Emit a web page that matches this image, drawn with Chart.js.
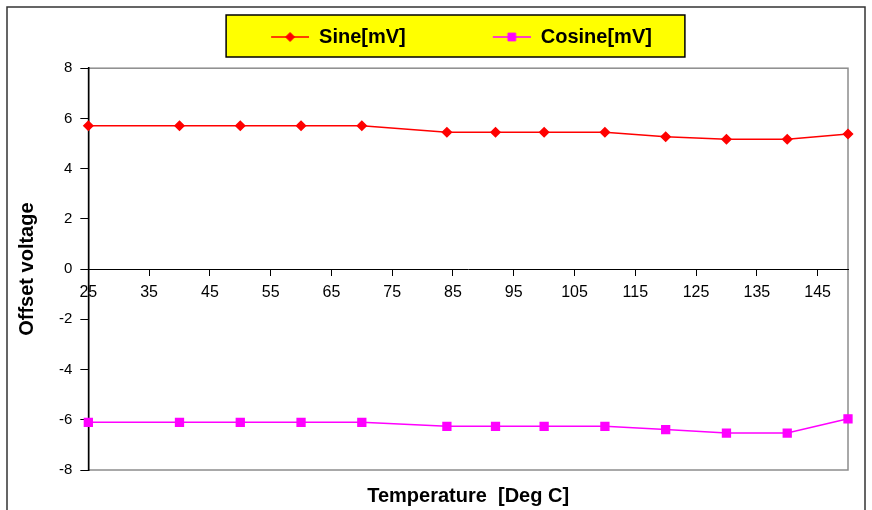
<!DOCTYPE html>
<html>
<head>
<meta charset="utf-8">
<script src="https://cdn.jsdelivr.net/npm/chart.js@4.4.1/dist/chart.umd.min.js"></script>
<style>
    html, body { margin: 0; padding: 0; background: #fff; overflow: hidden; }
    #wrap { width: 872px; height: 510px; }
</style>
</head>
<body>
<div id="wrap"><canvas id="offsetChart"></canvas></div>
<script>
// measured values
const temps = [25, 40, 50, 60, 70, 84, 92, 100, 110, 120, 130, 140, 150];
const sineValues = [5.71, 5.71, 5.71, 5.71, 5.71, 5.45, 5.45, 5.45, 5.45, 5.27, 5.17, 5.17, 5.38];
const cosineValues = [-6.10, -6.10, -6.10, -6.10, -6.10, -6.26, -6.26, -6.26, -6.26, -6.39, -6.53, -6.53, -5.96];

// axis ticks
const xTicks = [25, 35, 45, 55, 65, 75, 85, 95, 105, 115, 125, 135, 145];
const yTicks = [-8, -6, -4, -2, 0, 2, 4, 6, 8];

const seriesNames = ['Sine[mV]', 'Cosine[mV]'];

Chart.defaults.font.family = '"Liberation Sans", Arial, sans-serif';
Chart.defaults.color = '#000';

// legend symbol: empty space + line with marker
const LEGEND_GAP = 75;
const LEGEND_LINE = 38;

function legendSymbol(ds) {
    const c = document.createElement('canvas');
    c.width = LEGEND_GAP + LEGEND_LINE;
    c.height = 12;
    const ctx = c.getContext('2d');
    ctx.strokeStyle = ds.borderColor;
    ctx.lineWidth = 1.5;
    ctx.beginPath();
    ctx.moveTo(LEGEND_GAP, 6);
    ctx.lineTo(LEGEND_GAP + LEGEND_LINE, 6);
    ctx.stroke();
    ctx.fillStyle = ds.backgroundColor;
    ctx.lineWidth = 1;
    Chart.helpers.drawPoint(ctx, { pointStyle: ds.pointStyle, radius: ds.pointRadius, borderWidth: 1, rotation: 0 }, LEGEND_GAP + LEGEND_LINE / 2, 6);
    return c;
}

// background, outer border, plot frame and yellow legend box
const framePlugin = {
    id: 'frame',
    beforeDraw(chart) {
        const { ctx, chartArea: a, legend } = chart;
        ctx.save();
        ctx.fillStyle = '#fff';
        ctx.fillRect(0, 0, chart.width, chart.height);

        ctx.strokeStyle = '#333';
        ctx.lineWidth = 1.5;
        ctx.strokeRect(7, 7, chart.width - 14, chart.height + 10);

        ctx.strokeStyle = '#8c8c8c';
        ctx.lineWidth = 1.5;
        ctx.strokeRect(a.left, a.top, a.right - a.left, a.bottom - a.top);

        const boxes = legend.legendHitBoxes;
        if (boxes && boxes.length) {
            const first = boxes[0];
            const last = boxes[boxes.length - 1];
            const bx = first.left + LEGEND_GAP - 45;
            const bw = last.left + last.width + 33 - bx;
            ctx.fillStyle = '#ffff00';
            ctx.fillRect(bx, legend.top, bw, legend.height);
            ctx.strokeStyle = '#000';
            ctx.lineWidth = 1.5;
            ctx.strokeRect(bx, legend.top, bw, legend.height);
        }
        ctx.restore();
    }
};

const sineSet = {
    label: seriesNames[0],
    data: temps.map((t, i) => ({ x: t, y: sineValues[i] })),
    showLine: true,
    borderColor: '#ff0000',
    backgroundColor: '#ff0000',
    borderWidth: 1.5,
    pointStyle: 'rectRot',
    pointRadius: 4.5,
    pointHoverRadius: 4.5,
    tension: 0,
    clip: false
};

const cosineSet = {
    label: seriesNames[1],
    data: temps.map((t, i) => ({ x: t, y: cosineValues[i] })),
    showLine: true,
    borderColor: '#ff00ff',
    backgroundColor: '#ff00ff',
    borderWidth: 1.5,
    pointStyle: 'rect',
    pointRadius: 5.5,
    pointHoverRadius: 5.5,
    tension: 0,
    clip: false
};

new Chart(document.getElementById('offsetChart'), {
    type: 'scatter',
    data: { datasets: [sineSet, cosineSet] },
    options: {
        responsive: true,
        maintainAspectRatio: false,
        animation: false,
        layout: { padding: { top: 15, right: 24, bottom: 2, left: 0 } },
        scales: {
            x: {
                type: 'linear',
                position: { y: 0 },
                min: 25,
                max: 150,
                afterBuildTicks: axis => { axis.ticks = xTicks.map(v => ({ value: v })); },
                ticks: { autoSkip: false, maxRotation: 0, padding: 8, color: '#000', font: { size: 16 } },
                grid: { drawOnChartArea: false, drawTicks: true, tickLength: 6, color: '#000' },
                border: { color: '#000', width: 1 }
            },
            y: {
                type: 'linear',
                min: -8,
                max: 8,
                afterBuildTicks: axis => { axis.ticks = yTicks.map(v => ({ value: v })); },
                ticks: { padding: 8, color: '#000', font: { size: 15 } },
                grid: { drawOnChartArea: false, drawTicks: true, tickLength: 8, color: '#000' },
                border: { color: '#000', width: 1.5 },
                title: {
                    display: true,
                    text: 'Offset voltage',
                    color: '#000',
                    font: { size: 20, weight: 'bold' },
                    padding: { top: 15, bottom: 12 }
                }
            }
        },
        plugins: {
            legend: {
                position: 'top',
                labels: {
                    usePointStyle: true,
                    pointStyleWidth: LEGEND_GAP + LEGEND_LINE,
                    padding: 12,
                    color: '#000',
                    font: { size: 20, weight: 'bold' },
                    generateLabels(chart) {
                        const items = Chart.defaults.plugins.legend.labels.generateLabels(chart);
                        items.forEach(item => {
                            item.pointStyle = legendSymbol(chart.data.datasets[item.datasetIndex]);
                        });
                        return items;
                    }
                }
            },
            // spacer between legend and plot
            subtitle: {
                display: true,
                text: '',
                weight: 500,
                font: { size: 1 },
                padding: { top: 0, bottom: 10 }
            },
            title: {
                display: true,
                position: 'bottom',
                fullSize: false,
                text: 'Temperature  [Deg C]',
                color: '#000',
                font: { size: 20, weight: 'bold' },
                padding: { top: 14, bottom: 0 }
            },
            tooltip: { enabled: false }
        }
    },
    plugins: [framePlugin]
});
</script>
</body>
</html>
